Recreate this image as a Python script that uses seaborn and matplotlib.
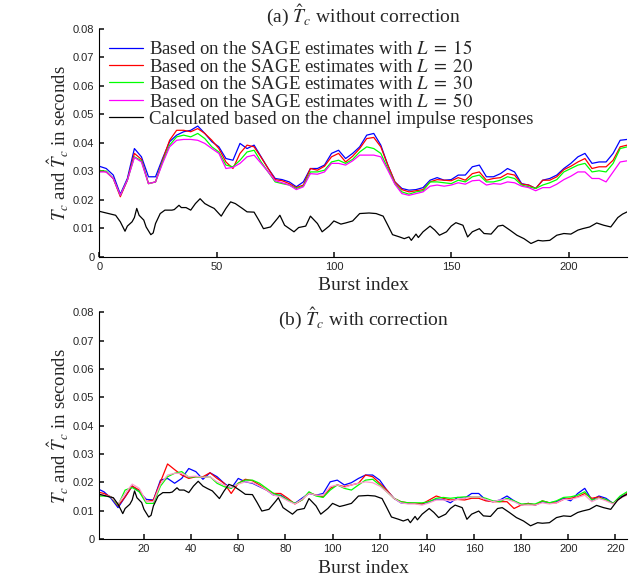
import numpy as np
import matplotlib
matplotlib.use("Agg")
import matplotlib.pyplot as plt
import seaborn as sns

# ── Data (T_c in seconds) ───────────────────────────────────────────────────
burst = list(range(0, 226, 3))   # sampled burst indices for the SAGE curves

# (a) without correction
top_L15 = [0.0318, 0.0310, 0.0287, 0.0220, 0.0275, 0.0380, 0.0351, 0.0281, 0.0281, 0.0345,
           0.0404, 0.0427, 0.0439, 0.0444, 0.0459, 0.0433, 0.0404, 0.0386, 0.0345, 0.0339,
           0.0398, 0.0380, 0.0392, 0.0351, 0.0310, 0.0275, 0.0271, 0.0263, 0.0246, 0.0263,
           0.0310, 0.0310, 0.0322, 0.0363, 0.0374, 0.0345, 0.0363, 0.0386, 0.0427,
           0.0433, 0.0392, 0.0322, 0.0263, 0.0240, 0.0234, 0.0236, 0.0243, 0.0269, 0.0278,
           0.0269, 0.0271, 0.0287, 0.0287, 0.0316, 0.0322, 0.0281, 0.0281, 0.0292, 0.0310,
           0.0298, 0.0257, 0.0252, 0.0240, 0.0269, 0.0275, 0.0287, 0.0310, 0.0328, 0.0351,
           0.0363, 0.0328, 0.0333, 0.0333, 0.0363, 0.0409, 0.0412]
top_L20 = [0.0304, 0.0298, 0.0275, 0.0211, 0.0269, 0.0363, 0.0342, 0.0257, 0.0263, 0.0339,
           0.0409, 0.0444, 0.0444, 0.0439, 0.0450, 0.0433, 0.0409, 0.0380, 0.0333, 0.0310,
           0.0363, 0.0392, 0.0386, 0.0349, 0.0310, 0.0271, 0.0267, 0.0257, 0.0243, 0.0252,
           0.0310, 0.0304, 0.0318, 0.0351, 0.0363, 0.0333, 0.0353, 0.0380, 0.0415,
           0.0419, 0.0386, 0.0322, 0.0263, 0.0236, 0.0228, 0.0232, 0.0236, 0.0263, 0.0271,
           0.0269, 0.0267, 0.0278, 0.0269, 0.0292, 0.0298, 0.0269, 0.0275, 0.0278, 0.0292,
           0.0287, 0.0255, 0.0252, 0.0240, 0.0269, 0.0269, 0.0281, 0.0306, 0.0318, 0.0333,
           0.0345, 0.0310, 0.0316, 0.0316, 0.0339, 0.0386, 0.0392]
top_L30 = [0.0302, 0.0301, 0.0275, 0.0216, 0.0269, 0.0351, 0.0337, 0.0257, 0.0263, 0.0333,
           0.0392, 0.0421, 0.0427, 0.0421, 0.0433, 0.0415, 0.0386, 0.0368, 0.0322, 0.0316,
           0.0339, 0.0368, 0.0374, 0.0333, 0.0298, 0.0263, 0.0257, 0.0252, 0.0240, 0.0248,
           0.0298, 0.0298, 0.0304, 0.0333, 0.0339, 0.0328, 0.0342, 0.0368, 0.0386,
           0.0380, 0.0363, 0.0310, 0.0257, 0.0228, 0.0220, 0.0228, 0.0232, 0.0263, 0.0263,
           0.0260, 0.0257, 0.0269, 0.0263, 0.0281, 0.0287, 0.0263, 0.0263, 0.0269, 0.0281,
           0.0275, 0.0252, 0.0246, 0.0240, 0.0252, 0.0260, 0.0271, 0.0298, 0.0310, 0.0322,
           0.0328, 0.0298, 0.0302, 0.0298, 0.0328, 0.0380, 0.0386]
top_L50 = [0.0298, 0.0298, 0.0275, 0.0216, 0.0269, 0.0349, 0.0333, 0.0257, 0.0263, 0.0328,
           0.0386, 0.0409, 0.0412, 0.0412, 0.0409, 0.0398, 0.0380, 0.0363, 0.0310, 0.0314,
           0.0328, 0.0351, 0.0357, 0.0328, 0.0298, 0.0267, 0.0260, 0.0252, 0.0236, 0.0246,
           0.0292, 0.0290, 0.0298, 0.0328, 0.0328, 0.0322, 0.0337, 0.0357, 0.0357,
           0.0357, 0.0351, 0.0304, 0.0255, 0.0222, 0.0216, 0.0222, 0.0228, 0.0248, 0.0252,
           0.0248, 0.0252, 0.0260, 0.0255, 0.0267, 0.0269, 0.0252, 0.0257, 0.0255, 0.0263,
           0.0260, 0.0248, 0.0243, 0.0232, 0.0243, 0.0243, 0.0255, 0.0271, 0.0283, 0.0298,
           0.0298, 0.0275, 0.0275, 0.0263, 0.0298, 0.0333, 0.0337]

# (b) with correction
bot_L15 = [0.0179, 0.0167, 0.0144, 0.0111, 0.0149, 0.0187, 0.0167, 0.0140, 0.0138, 0.0208,
           0.0214, 0.0197, 0.0214, 0.0249, 0.0238, 0.0211, 0.0234, 0.0220, 0.0197, 0.0179,
           0.0214, 0.0202, 0.0197, 0.0185, 0.0173, 0.0155, 0.0155, 0.0138, 0.0126, 0.0144,
           0.0161, 0.0155, 0.0161, 0.0202, 0.0208, 0.0191, 0.0199, 0.0214, 0.0226,
           0.0226, 0.0208, 0.0173, 0.0144, 0.0128, 0.0126, 0.0126, 0.0124, 0.0132, 0.0140,
           0.0140, 0.0128, 0.0147, 0.0144, 0.0161, 0.0161, 0.0138, 0.0132, 0.0138, 0.0152,
           0.0135, 0.0120, 0.0126, 0.0120, 0.0132, 0.0128, 0.0132, 0.0144, 0.0135, 0.0161,
           0.0179, 0.0138, 0.0152, 0.0144, 0.0126, 0.0147, 0.0161]
bot_L20 = [0.0167, 0.0161, 0.0149, 0.0117, 0.0149, 0.0187, 0.0173, 0.0132, 0.0138, 0.0202,
           0.0265, 0.0245, 0.0226, 0.0214, 0.0220, 0.0220, 0.0234, 0.0214, 0.0197, 0.0161,
           0.0197, 0.0211, 0.0206, 0.0191, 0.0173, 0.0161, 0.0161, 0.0144, 0.0124, 0.0138,
           0.0164, 0.0155, 0.0149, 0.0179, 0.0191, 0.0185, 0.0191, 0.0197, 0.0226,
           0.0220, 0.0197, 0.0173, 0.0144, 0.0132, 0.0128, 0.0126, 0.0124, 0.0138, 0.0152,
           0.0144, 0.0138, 0.0140, 0.0138, 0.0144, 0.0144, 0.0135, 0.0132, 0.0132, 0.0132,
           0.0108, 0.0120, 0.0126, 0.0120, 0.0135, 0.0128, 0.0128, 0.0140, 0.0144, 0.0149,
           0.0161, 0.0144, 0.0149, 0.0138, 0.0126, 0.0144, 0.0161]
bot_L30 = [0.0152, 0.0152, 0.0149, 0.0120, 0.0173, 0.0182, 0.0167, 0.0126, 0.0126, 0.0187,
           0.0220, 0.0232, 0.0238, 0.0218, 0.0220, 0.0218, 0.0220, 0.0197, 0.0185, 0.0179,
           0.0197, 0.0208, 0.0208, 0.0197, 0.0179, 0.0161, 0.0152, 0.0138, 0.0126, 0.0138,
           0.0167, 0.0152, 0.0147, 0.0173, 0.0191, 0.0179, 0.0173, 0.0191, 0.0208,
           0.0211, 0.0191, 0.0167, 0.0144, 0.0132, 0.0128, 0.0128, 0.0128, 0.0132, 0.0144,
           0.0147, 0.0144, 0.0147, 0.0149, 0.0149, 0.0149, 0.0144, 0.0135, 0.0132, 0.0144,
           0.0135, 0.0124, 0.0124, 0.0124, 0.0135, 0.0128, 0.0135, 0.0147, 0.0149, 0.0155,
           0.0167, 0.0138, 0.0144, 0.0140, 0.0126, 0.0152, 0.0167]
bot_L50 = [0.0161, 0.0155, 0.0149, 0.0124, 0.0161, 0.0194, 0.0179, 0.0132, 0.0132, 0.0194,
           0.0226, 0.0232, 0.0232, 0.0220, 0.0222, 0.0218, 0.0220, 0.0202, 0.0191, 0.0182,
           0.0194, 0.0202, 0.0199, 0.0187, 0.0173, 0.0155, 0.0149, 0.0135, 0.0124, 0.0140,
           0.0161, 0.0155, 0.0155, 0.0185, 0.0191, 0.0182, 0.0191, 0.0197, 0.0202,
           0.0199, 0.0187, 0.0167, 0.0144, 0.0128, 0.0124, 0.0124, 0.0120, 0.0128, 0.0138,
           0.0138, 0.0135, 0.0140, 0.0144, 0.0149, 0.0149, 0.0140, 0.0132, 0.0138, 0.0140,
           0.0132, 0.0120, 0.0120, 0.0120, 0.0128, 0.0124, 0.0128, 0.0140, 0.0140, 0.0147,
           0.0155, 0.0132, 0.0144, 0.0135, 0.0124, 0.0144, 0.0155]

# Calculated from the channel impulse responses (same curve in both panels)
cir_burst = [0, 2, 4, 7, 9, 11, 12, 14, 15, 16, 17, 19, 20, 22, 23, 24, 26, 28, 31, 32,
             34, 35, 37, 39, 41, 43, 45, 47, 49, 52, 54, 56, 58, 61, 63, 66, 68, 70, 73, 76,
             77, 79, 83, 85, 88, 90, 93, 95, 98, 100, 103, 105, 108, 111, 115,
             118, 121, 123, 125, 128, 130, 132, 133, 135, 136, 138, 141, 143, 145, 148, 150,
             152, 155, 157, 159, 162, 164, 167, 170, 172, 175, 178, 181, 184, 187, 189, 192,
             195, 198, 201, 204, 206, 209, 212, 215, 218, 221, 223, 225]
cir_tc = [0.0160, 0.0156, 0.0152, 0.0146, 0.0123, 0.0090, 0.0108, 0.0123, 0.0138, 0.0170,
          0.0146, 0.0129, 0.0105, 0.0078, 0.0084, 0.0117, 0.0152, 0.0164, 0.0164, 0.0166,
          0.0181, 0.0173, 0.0173, 0.0164, 0.0187, 0.0204, 0.0187, 0.0178, 0.0170, 0.0143,
          0.0170, 0.0193, 0.0187, 0.0170, 0.0158, 0.0157, 0.0129, 0.0099, 0.0105, 0.0135,
          0.0146, 0.0111, 0.0088, 0.0103, 0.0108, 0.0143, 0.0117, 0.0088, 0.0108, 0.0126,
          0.0115, 0.0119, 0.0126, 0.0152, 0.0154,
          0.0152, 0.0143, 0.0111, 0.0078, 0.0070, 0.0064, 0.0070, 0.0058, 0.0080, 0.0068,
          0.0088, 0.0108, 0.0094, 0.0076, 0.0088, 0.0108, 0.0120, 0.0111, 0.0070, 0.0088,
          0.0099, 0.0082, 0.0080, 0.0108, 0.0111, 0.0094, 0.0076, 0.0064, 0.0047, 0.0058,
          0.0056, 0.0058, 0.0076, 0.0082, 0.0080, 0.0094, 0.0099, 0.0105, 0.0119, 0.0111,
          0.0105, 0.0138, 0.0150, 0.0158]

labels = [r"Based on the SAGE estimates with $L\;=\;15$",
          r"Based on the SAGE estimates with $L\;=\;20$",
          r"Based on the SAGE estimates with $L\;=\;30$",
          r"Based on the SAGE estimates with $L\;=\;50$",
          "Calculated based on the channel impulse responses"]

# ── Style ────────────────────────────────────────────────────────────────────
sns.set_theme(style="ticks")
plt.rcParams.update({
    "font.family": ["Liberation Serif", "DejaVu Serif"],
    "mathtext.fontset": "stix",
    "xtick.direction": "in",
    "ytick.direction": "in",
    "xtick.major.size": 3.5,
    "ytick.major.size": 3.5,
    "axes.linewidth": 0.8,
    "axes.edgecolor": "black",
})

top_colors = ["#0000ff", "#ff0000", "#00ff00", "#ff00ff", "black"]
bot_colors = ["#0000ff", "#ff0000", "#00ff00", "#ff99cc", "black"]

fig = plt.figure(figsize=(6.4, 5.76), dpi=100)
ax1 = fig.add_axes([0.155, 0.554, 0.825, 0.396])
ax2 = fig.add_axes([0.155, 0.064, 0.825, 0.394])


def draw(ax, series, colors, show_legend):
    for vals, col, lab in zip(series, colors[:4], labels[:4]):
        sns.lineplot(x=burst, y=vals, color=col, lw=0.9, ax=ax, label=lab,
                     legend=False)
    sns.lineplot(x=cir_burst, y=cir_tc, color=colors[4], lw=0.9, ax=ax,
                 label=labels[4], legend=False)
    ax.set_ylim(0, 0.08)
    ax.set_yticks([0, 0.01, 0.02, 0.03, 0.04, 0.05, 0.06, 0.07, 0.08])
    ax.set_yticklabels(["0", "0.01", "0.02", "0.03", "0.04", "0.05", "0.06", "0.07", "0.08"])
    ax.set_xlabel("Burst index", fontsize=14, labelpad=4)
    ax.set_ylabel(r"$T_c$ and $\hat{T}_c$ in seconds", fontsize=13.5, labelpad=1)
    sns.despine(ax=ax)
    if show_legend:
        ax.legend(loc="upper left", bbox_to_anchor=(0.0, 0.99), frameon=False,
                  fontsize=13.5, handlelength=1.85, handletextpad=0.28,
                  labelspacing=0.0, borderpad=0.1, borderaxespad=0.4)


draw(ax1, [top_L15, top_L20, top_L30, top_L50], top_colors, True)
ax1.set_xlim(0, 225)
ax1.set_xticks([0, 50, 100, 150, 200])
ax1.set_title(r"(a) $\hat{T}_c$ without correction", fontsize=14, pad=3)

draw(ax2, [bot_L15, bot_L20, bot_L30, bot_L50], bot_colors, False)
ax2.set_xlim(1, 225)
ax2.set_xticks([20, 40, 60, 80, 100, 120, 140, 160, 180, 200, 220])
ax2.set_title(r"(b) $\hat{T}_c$ with correction", fontsize=14, y=0.94, pad=0)

for ax in (ax1, ax2):
    for t in ax.get_xticklabels() + ax.get_yticklabels():
        t.set_family("Liberation Sans")
        t.set_fontsize(8)

fig.savefig("out.png", dpi=100)
